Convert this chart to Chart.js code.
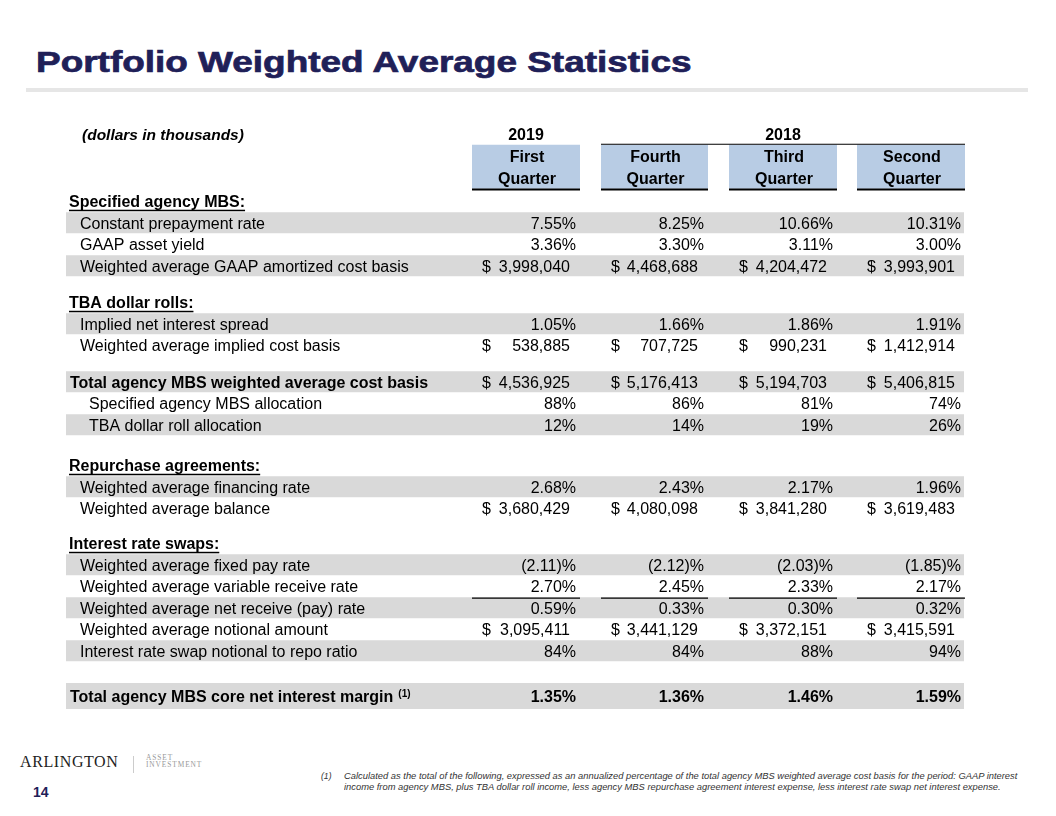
<!DOCTYPE html>
<html>
<head>
  <meta charset="utf-8" />
  <title>Portfolio Weighted Average Statistics</title>
  <script src="https://cdn.jsdelivr.net/npm/chart.js"></script>
  <style>
    body { margin: 0; width: 1056px; height: 816px; background: #fff; position: relative; overflow: hidden;
           font-family: "Liberation Sans", Arial, sans-serif; }
    .abs { position: absolute; white-space: nowrap; }
    #title { left: 36px; top: 48px; font-size: 29px; line-height: 29px; font-weight: bold; color: #1f2058;
             -webkit-text-stroke: 0.7px #1f2058; transform-origin: left center; }
    #rule { left: 26px; top: 88px; width: 1002px; height: 4px; background: #e6e6e6; }
    #tbl { position: absolute; left: 0; top: 100px; }
    #logo1 { left: 20px; top: 754px; font-family: "Liberation Serif", serif; font-size: 16px; line-height: 16px;
             letter-spacing: 0.6px; color: #222; }
    #logoSep { left: 133px; top: 756px; width: 1px; height: 17px; background: #ccc; }
    .logo2 { left: 146px; font-family: "Liberation Serif", serif; font-size: 7.4px; line-height: 7px;
             letter-spacing: 0.9px; color: #999; }
    #page { left: 33px; top: 785px; font-size: 14px; line-height: 14px; font-weight: bold; color: #1f2058; }
    .fn { font-size: 8.6px; line-height: 10px; font-style: italic; color: #333; transform-origin: left center; }
  </style>
</head>
<body>
  <div id="title" class="abs">Portfolio Weighted Average Statistics</div>
  <div id="rule" class="abs"></div>
  <canvas id="tbl" width="1056" height="620"></canvas>
  <div id="logo1" class="abs">ARLINGTON</div>
  <div id="logoSep" class="abs"></div>
  <div class="abs logo2" style="top:754px;">ASSET</div>
  <div class="abs logo2" style="top:760.5px;">INVESTMENT</div>
  <div id="page" class="abs">14</div>
  <div class="abs fn" style="left:321px; top:771px;">(1)</div>
  <div id="fn1" class="abs fn" style="left:344px; top:771px;">Calculated as the total of the following, expressed as an annualized percentage of the total agency MBS weighted average cost basis for the period: GAAP interest</div>
  <div id="fn2" class="abs fn" style="left:344px; top:782px;">income from agency MBS, plus TBA dollar roll income, less agency MBS repurchase agreement interest expense, less interest rate swap net interest expense.</div>
  <script>
    // table values
    const years = ['2019', '2018'];
    const quarters = ['First', 'Fourth', 'Third', 'Second'];
    const cpr = [7.55, 8.25, 10.66, 10.31];
    const gaapYield = [3.36, 3.30, 3.11, 3.00];
    const amortCost = [3998040, 4468688, 4204472, 3993901];
    const tbaSpread = [1.05, 1.66, 1.86, 1.91];
    const tbaCost = [538885, 707725, 990231, 1412914];
    const totalCost = [4536925, 5176413, 5194703, 5406815];
    const specAlloc = [88, 86, 81, 74];
    const tbaAlloc = [12, 14, 19, 26];
    const repoRate = [2.68, 2.43, 2.17, 1.96];
    const repoBalance = [3680429, 4080098, 3841280, 3619483];
    const swapPay = [-2.11, -2.12, -2.03, -1.85];
    const swapReceive = [2.70, 2.45, 2.33, 2.17];
    const swapNet = [0.59, 0.33, 0.30, 0.32];
    const swapNotional = [3095411, 3441129, 3372151, 3415591];
    const swapRatio = [84, 84, 88, 94];
    const coreMargin = [1.35, 1.36, 1.46, 1.59];

    const rows = [
      { kind: 'years' },
      { kind: 'quarters' },
      { kind: 'quarter2' },
      { kind: 'section', label: 'Specified agency MBS:' },
      { kind: 'item', label: 'Constant prepayment rate', values: cpr, fmt: 'pct', shade: true },
      { kind: 'item', label: 'GAAP asset yield', values: gaapYield, fmt: 'pct' },
      { kind: 'item', label: 'Weighted average GAAP amortized cost basis', values: amortCost, fmt: 'usd', shade: true },
      { kind: 'section', label: 'TBA dollar rolls:' },
      { kind: 'item', label: 'Implied net interest spread', values: tbaSpread, fmt: 'pct', shade: true },
      { kind: 'item', label: 'Weighted average implied cost basis', values: tbaCost, fmt: 'usd' },
      { kind: 'total', label: 'Total agency MBS weighted average cost basis', values: totalCost, fmt: 'usd', shade: true },
      { kind: 'sub', label: 'Specified agency MBS allocation', values: specAlloc, fmt: 'int' },
      { kind: 'sub', label: 'TBA dollar roll allocation', values: tbaAlloc, fmt: 'int', shade: true },
      { kind: 'section', label: 'Repurchase agreements:' },
      { kind: 'item', label: 'Weighted average financing rate', values: repoRate, fmt: 'pct', shade: true },
      { kind: 'item', label: 'Weighted average balance', values: repoBalance, fmt: 'usd' },
      { kind: 'section', label: 'Interest rate swaps:' },
      { kind: 'item', label: 'Weighted average fixed pay rate', values: swapPay, fmt: 'pct', shade: true },
      { kind: 'item', label: 'Weighted average variable receive rate', values: swapReceive, fmt: 'pct', ruleBelow: true },
      { kind: 'item', label: 'Weighted average net receive (pay) rate', values: swapNet, fmt: 'pct', shade: true },
      { kind: 'item', label: 'Weighted average notional amount', values: swapNotional, fmt: 'usd' },
      { kind: 'item', label: 'Interest rate swap notional to repo ratio', values: swapRatio, fmt: 'int', shade: true },
      { kind: 'grand', label: 'Total agency MBS core net interest margin', note: '(1)', values: coreMargin, fmt: 'pct', shade: true }
    ];

    // layout: space before each row (in row heights), column edges in table units
    const rowGaps = [0, 1.05, 1.0, 1.1, 1, 1, 1, 1.7, 1, 1, 1.7, 1, 1, 1.88, 1, 1, 1.63, 1, 1, 1, 1, 1, 2.1];
    const colLeft = [406, 535, 663, 791];
    const colRight = [514, 642, 771, 899];
    const tableEnd = 898;
    const indent = { section: 3, item: 14, sub: 23, total: 4, grand: 4 };

    const rowY = [];
    rowGaps.reduce((acc, g, i) => (rowY[i] = acc + g), 0);

    const bands = [], grandBand = [], boxes = [], thick = [], thin = [];
    rows.forEach((r, i) => {
      if (r.shade) (r.kind === 'grand' ? grandBand : bands).push({ x: [0, tableEnd], y: rowY[i] });
      if (r.ruleBelow) colLeft.forEach((l, c) => thin.push({ x: [l, colRight[c]], y: rowY[i] + 0.55 }));
    });
    const boxY = (rowY[1] + rowY[2]) / 2;
    colLeft.forEach((l, c) => {
      boxes.push({ x: [l, colRight[c]], y: boxY });
      thick.push({ x: [l, colRight[c]], y: rowY[2] + 0.56 });
    });
    thin.push({ x: [colLeft[1], colRight[3]], y: rowY[1] - 0.55 });

    const FONT = '"Liberation Sans", Arial, sans-serif';
    const fmtValue = (v, fmt) => {
      if (fmt === 'pct') return v < 0 ? '(' + Math.abs(v).toFixed(2) + ')%' : v.toFixed(2) + '%';
      if (fmt === 'int') return v + '%';
      return v.toLocaleString('en-US');
    };

    const tableText = {
      id: 'tableText',
      afterDatasetsDraw(chart) {
        const ctx = chart.ctx, xs = chart.scales.x, ys = chart.scales.y;
        const X = v => xs.getPixelForValue(v), Y = v => ys.getPixelForValue(v);
        ctx.save();
        ctx.fillStyle = '#000';
        ctx.textBaseline = 'alphabetic';
        // column header block
        ctx.font = 'italic bold 15.5px ' + FONT;
        ctx.textAlign = 'left';
        ctx.fillText('(dollars in thousands)', X(16), Y(rowY[0]) + 6);
        ctx.font = 'bold 16px ' + FONT;
        ctx.textAlign = 'center';
        ctx.fillText(years[0], (X(colLeft[0]) + X(colRight[0])) / 2, Y(rowY[0]) + 6);
        ctx.fillText(years[1], (X(colLeft[1]) + X(colRight[3])) / 2, Y(rowY[0]) + 6);
        quarters.forEach((q, c) => {
          const cx = (X(colLeft[c]) + X(colRight[c])) / 2 + 1;
          ctx.fillText(q, cx, Y(rowY[1]) + 6);
          ctx.fillText('Quarter', cx, Y(rowY[2]) + 6);
        });
        rows.forEach((r, i) => {
          if (!r.label) return;
          const y = Y(rowY[i]) + 6;
          const bold = r.kind !== 'item' && r.kind !== 'sub';
          ctx.font = (bold ? 'bold ' : '') + '16px ' + FONT;
          ctx.textAlign = 'left';
          const x0 = X(indent[r.kind]);
          ctx.fillText(r.label, x0, y);
          const w = ctx.measureText(r.label).width;
          if (r.kind === 'section') ctx.fillRect(x0, y + 2.5, w, 1.5);
          if (r.note) {
            ctx.font = 'bold 10px ' + FONT;
            ctx.fillText(r.note, x0 + w + 5, y - 5);
          }
          if (!r.values) return;
          ctx.font = (r.kind === 'grand' ? 'bold ' : '') + '16px ' + FONT;
          r.values.forEach((v, c) => {
            const txt = fmtValue(v, r.fmt);
            if (r.fmt === 'usd') {
              ctx.textAlign = 'left';
              ctx.fillText('$', X(colLeft[c] + 10), y);
              ctx.textAlign = 'right';
              ctx.fillText(txt, X(colRight[c] - 10), y);
            } else {
              ctx.textAlign = 'right';
              ctx.fillText(txt, X(colRight[c] - 4), y);
            }
          });
        });
        ctx.restore();
      }
    };

    const barSet = (data, color, thickness) => ({
      data, backgroundColor: color, barThickness: thickness, grouped: false,
      borderWidth: 0, inflateAmount: 0
    });

    new Chart(document.getElementById('tbl'), {
      type: 'bar',
      data: {
        datasets: [
          barSet(thick, '#000', 2),
          barSet(thin, '#000', 1.2),
          barSet(boxes, '#b8cce4', 44),
          barSet(bands, '#d9d9d9', 21),
          barSet(grandBand, '#d9d9d9', 26)
        ]
      },
      options: {
        indexAxis: 'y',
        responsive: false,
        animation: false,
        events: [],
        layout: { padding: { left: 66, right: 91, top: 12, bottom: 6 } },
        plugins: { legend: { display: false }, tooltip: { enabled: false } },
        scales: {
          x: { type: 'linear', min: 0, max: 899, display: false },
          y: { type: 'linear', min: -1, max: 27, reverse: true, offset: false, display: false }
        }
      },
      plugins: [tableText]
    });

    // fit page text widths to the slide
    const fit = (el, target) => { el.style.transform = 'scaleX(' + (target / el.offsetWidth) + ')'; };
    fit(document.getElementById('title'), 656);
    const fn1 = document.getElementById('fn1');
    const k = 673 / fn1.offsetWidth;
    fn1.style.transform = 'scaleX(' + k + ')';
    document.getElementById('fn2').style.transform = 'scaleX(' + k + ')';
  </script>
</body>
</html>
